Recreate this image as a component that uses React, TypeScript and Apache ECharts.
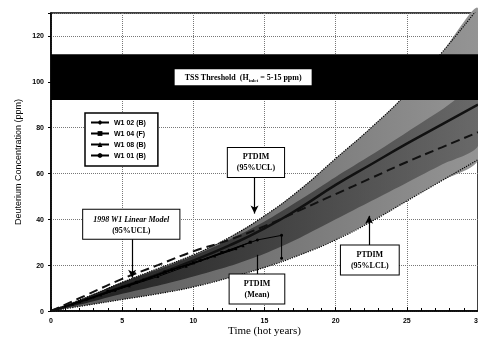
import React, { useEffect, useRef } from "react";
import * as echarts from "echarts";

// Time (hot years)
const xs = [0, 2.5, 5, 7.5, 10, 12.5, 15, 17.5, 20, 22.5, 25, 27.5, 30];
// PTDIM curves (ppm)
const ucl = [0, 6, 12.5, 18.5, 24.5, 32, 41.5, 53, 66.5, 80, 95, 113, 132];
const mean = [0, 5, 10.5, 16, 22, 28.5, 36, 45, 55, 64, 73, 81.5, 90];
const lcl = [0, 2.5, 5, 7.5, 10.5, 14.5, 19, 24.5, 31, 39, 48, 57, 66];
// dense core of the band
const coreLow = [0, 3.5, 7.5, 11, 15, 19.5, 25, 32, 40, 48, 56, 64, 72];
const coreHigh = [0, 6, 12.5, 18, 24, 31, 39, 48.5, 58.5, 68, 78, 88, 98];
// 1998 W1 linear model (95%UCL)
const linModel = [0, 7, 14, 20, 26, 31, 37, 44, 51, 58, 65, 71.5, 78];

// measured wells
const w102x = [1, 3, 5, 7, 9, 11, 13];
const w102y = [2, 6, 10.5, 14.5, 19, 23, 27];
const w104x = [2, 4, 6, 8, 10, 12, 14];
const w104y = [4, 8.5, 12.5, 17, 21, 25.5, 30];
const w108x = [1.5, 3.5, 5.5, 7.5, 9.5, 11.5, 13.5];
const w108y = [3, 7, 11, 15, 19.5, 24, 28.5];
const w101x = [2.5, 4.5, 6.5, 8.5, 10.5, 12.5, 14.5, 16.2, 16.2];
const w101y = [5, 9, 13.5, 18, 22, 26.5, 31, 33, 23];

const yTicks = [0, 20, 40, 60, 80, 100, 120];
const threshold = [92, 112];

const pairs = (a: number[], b: number[]) => a.map((x, i) => [x, b[i]]);

const bandSeries = (lo: number[], hi: number[], left: string, right: string, z: number) => ({
  type: "custom",
  silent: true,
  z,
  data: [0],
  renderItem: (_p: any, api: any) => {
    const upper = xs.map((x, i) => api.coord([x, hi[i]]));
    const lower = xs.map((x, i) => api.coord([x, lo[i]])).reverse();
    return {
      type: "polygon",
      shape: { points: upper.concat(lower), smooth: 0.25 },
      style: {
        fill: new echarts.graphic.LinearGradient(0, 0, 1, 0, [
          { offset: 0, color: left },
          { offset: 1, color: right },
        ]),
        stroke: "none",
      },
    };
  },
});

export default function App() {
  const ref = useRef<HTMLDivElement>(null);
  useEffect(() => {
    if (!ref.current) return;
    const chart = echarts.init(ref.current, null, { renderer: "svg" });
    const boxLabel = {
      show: true,
      position: "inside" as const,
      color: "#000",
      fontFamily: "Liberation Serif",
      fontWeight: "bold" as const,
      fontSize: 8,
      lineHeight: 11,
      backgroundColor: "#fff",
      borderColor: "#000",
      borderWidth: 1,
      align: "center" as const,
    };
    const dataSeries = (name: string, x: number[], y: number[], symbol: string) => ({
      name,
      type: "line",
      data: pairs(x, y),
      symbol,
      symbolSize: 3,
      itemStyle: { color: "#000" },
      lineStyle: { color: "#000", width: 1 },
      z: 4,
    });
    chart.setOption({
      animation: false,
      grid: {
        left: 51,
        right: 0,
        top: 13,
        bottom: 30,
        containLabel: false,
        outerBoundsMode: "none",
        show: true,
        borderColor: "#000",
        borderWidth: 1.5,
      },
      legend: {
        data: ["W1 02 (B)", "W1 04 (F)", "W1 08 (B)", "W1 01 (B)"],
        orient: "vertical",
        left: 85,
        top: 113,
        itemWidth: 18,
        itemHeight: 6,
        itemGap: 4,
        padding: [6, 12, 7, 5],
        backgroundColor: "#fff",
        borderColor: "#000",
        borderWidth: 1.5,
        textStyle: { fontSize: 7, fontWeight: "bold", fontFamily: "Liberation Sans", color: "#000" },
      },
      xAxis: {
        type: "value",
        min: 0,
        max: 30,
        interval: 5,
        name: "Time (hot years)",
        nameLocation: "middle",
        nameGap: 13,
        nameMoveOverlap: false,
        nameTextStyle: { fontFamily: "Liberation Serif", fontSize: 11, color: "#000" },
        axisLine: { lineStyle: { color: "#000", width: 1.5 } },
        axisTick: { inside: true, length: 4, lineStyle: { color: "#000" } },
        minorTick: { show: true, splitNumber: 5, length: 3, lineStyle: { color: "#000" } },
        axisLabel: { margin: 6, fontSize: 7, fontWeight: "bold", fontFamily: "Liberation Sans", color: "#000" },
        splitLine: { show: true, lineStyle: { color: "#777", type: "dotted", width: 1 } },
      },
      yAxis: {
        type: "value",
        min: 0,
        max: 130,
        interval: 20,
        name: "Deuterium Concentration (ppm)",
        nameLocation: "middle",
        nameGap: 29,
        nameMoveOverlap: false,
        nameTextStyle: { fontFamily: "Liberation Sans", fontSize: 9, color: "#000" },
        axisLine: { lineStyle: { color: "#000", width: 1.5 } },
        axisTick: { length: 3, lineStyle: { color: "#000" } },
        axisLabel: {
          margin: 7,
          fontSize: 7,
          fontWeight: "bold",
          fontFamily: "Liberation Sans",
          color: "#000",
          formatter: (v: number) => (yTicks.includes(v) ? String(v) : ""),
        },
        splitLine: { show: true, lineStyle: { color: "#777", type: "dotted", width: 1 } },
      },
      series: [
        bandSeries(lcl, ucl, "#555555", "#959595", 1),
        bandSeries(coreLow, coreHigh, "rgba(20,20,20,0.9)", "rgba(70,70,70,0.55)", 2),
        { name: "UCL", type: "line", data: pairs(xs, ucl), smooth: true, symbol: "none", lineStyle: { color: "#000", type: "dotted", width: 1.2 }, z: 3 },
        { name: "LCL", type: "line", data: pairs(xs, lcl), smooth: true, symbol: "none", lineStyle: { color: "#000", type: "dotted", width: 1.2 }, z: 3 },
        { name: "Mean", type: "line", data: pairs(xs, mean), smooth: true, symbol: "none", lineStyle: { color: "#111", width: 2.5 }, z: 3 },
        { name: "Linear", type: "line", data: pairs(xs, linModel), smooth: true, symbol: "none", lineStyle: { color: "#111", type: [9, 5], width: 2 }, z: 3 },
        dataSeries("W1 02 (B)", w102x, w102y, "diamond"),
        dataSeries("W1 04 (F)", w104x, w104y, "rect"),
        dataSeries("W1 08 (B)", w108x, w108y, "triangle"),
        dataSeries("W1 01 (B)", w101x, w101y, "circle"),
        {
          name: "threshold",
          type: "line",
          data: [],
          z: 6,
          markArea: {
            silent: true,
            z: 6,
            itemStyle: { color: "#000" },
            data: [[{ yAxis: threshold[0] }, { yAxis: threshold[1] }]],
          },
        },
        {
          name: "annot",
          type: "line",
          data: [],
          z: 8,
          markLine: {
            silent: true,
            z: 8,
            symbol: ["none", "arrow"],
            symbolSize: [6, 8],
            lineStyle: { color: "#000", type: "solid", width: 1.2 },
            label: { show: false },
            data: [
              [{ coord: [14.3, 58.5] }, { coord: [14.3, 42.5] }],
              [{ coord: [5.7, 31.3] }, { coord: [5.7, 14.5] }],
              [{ coord: [22.35, 28.3] }, { coord: [22.35, 41.5] }],
              [{ coord: [14.5, 15.7], symbol: "none" }, { coord: [14.5, 24.5], symbol: "none" }],
            ],
          },
          markPoint: {
            silent: true,
            z: 9,
            symbol: "rect",
            symbolSize: 1,
            itemStyle: { color: "rgba(0,0,0,0)" },
            data: [
              { coord: [14.4, 64.8], label: { ...boxLabel, formatter: "PTDIM\n(95%UCL)", padding: [4, 9, 3, 9] } },
              {
                coord: [5.64, 37.8],
                label: {
                  ...boxLabel,
                  formatter: "{i|1998 W1 Linear Model}\n(95%UCL)",
                  padding: [4, 10, 3, 10],
                  rich: { i: { fontStyle: "italic", fontWeight: "bold", fontSize: 8, fontFamily: "Liberation Serif", lineHeight: 11 } },
                },
              },
              { coord: [14.47, 9.6], label: { ...boxLabel, formatter: "PTDIM\n(Mean)", padding: [4, 14, 3, 14] } },
              { coord: [22.4, 22.2], label: { ...boxLabel, formatter: "PTDIM\n(95%LCL)", padding: [4, 10, 3, 10] } },
              {
                coord: [13.5, 102],
                label: {
                  ...boxLabel,
                  borderWidth: 0,
                  formatter: "TSS Threshold  (H{s|inlet} = 5-15 ppm)",
                  padding: [3, 10, 2, 10],
                  rich: { s: { fontSize: 5, fontWeight: "bold", fontFamily: "Liberation Serif", verticalAlign: "bottom", padding: [5, 0, 0, 0] } },
                },
              },
            ],
          },
        },
      ],
    });
    return () => chart.dispose();
  }, []);
  return <div ref={ref} style={{ position: "fixed", left: 0, top: 0, width: 478, height: 341 }} />;
}
